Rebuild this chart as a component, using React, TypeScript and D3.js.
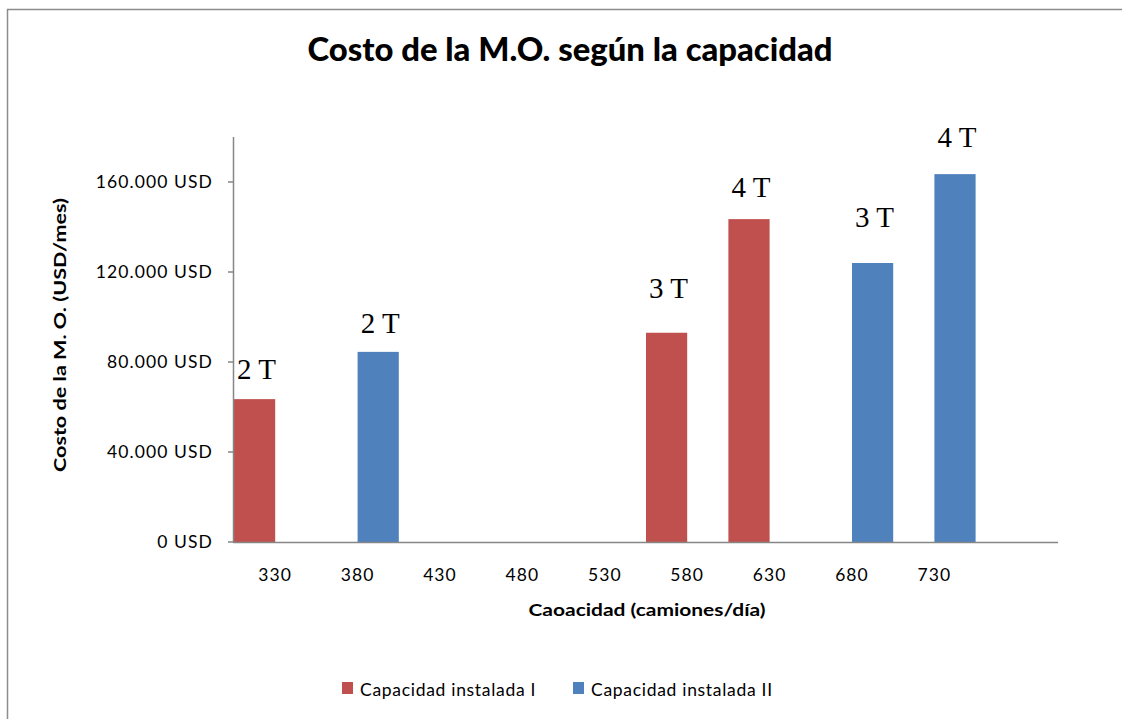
import React from "react";
import * as d3 from "d3";

const categories = ["330", "380", "430", "480", "530", "580", "630", "680", "730", ""];
const seriesNames = ["Capacidad instalada I", "Capacidad instalada II"];
const seriesI: (number | null)[] = [63500, null, null, null, null, 93000, 143500, null, null, null];
const seriesII: (number | null)[] = [null, 84500, null, null, null, null, null, 124000, 163500, null];
const turnsI: (string | null)[] = ["2 T", null, null, null, null, "3 T", "4 T", null, null, null];
const turnsII: (string | null)[] = [null, "2 T", null, null, null, null, null, "3 T", "4 T", null];
const yTicks = [0, 40000, 80000, 120000, 160000];

// label gap above bar (style)
const gapI = [20, 0, 0, 0, 0, 35, 22, 0, 0, 0];
const gapII = [0, 19, 0, 0, 0, 0, 0, 36, 27, 0];

const colors = ["#C0504D", "#4F81BD"];
const W = 1122, H = 719;
const left = 234, right = 1058, top = 137, bottom = 542;

export default function App() {
  const x = d3.scaleBand<string>().domain(categories.map((c, i) => i + "")).range([left, right]).paddingInner(0).paddingOuter(0);
  const xs = d3.scaleBand<string>().domain(["0", "1"]).range([0, x.bandwidth()]).padding(0);
  const y = d3.scaleLinear().domain([0, 180000]).range([bottom, top]);
  const fmt = (v: number) => d3.format(",")(v).replace(/,/g, ".") + " USD";
  const series = [seriesI, seriesII];
  const turns = [turnsI, turnsII];
  const gaps = [gapI, gapII];
  const sans = "Lato, 'Open Sans', sans-serif";

  return (
    <svg width={W} height={H} style={{ position: "absolute", left: 0, top: 0, background: "#fff" }}>
      <rect x={0} y={0} width={W} height={H} fill="#fff" />
      <path d={`M7.5,${H} V9.5 H${W}`} fill="none" stroke="#8c8c8c" strokeWidth={1.5} />
      <text x={570} y={61} textAnchor="middle" fontFamily={sans} fontWeight="900" fontSize={33} textLength={525} lengthAdjust="spacingAndGlyphs" fill="#000">
        Costo de la M.O. según la capacidad
      </text>
      {series.map((s, si) =>
        s.map((v, i) =>
          v == null ? null : (
            <rect key={`b${si}-${i}`} x={(x(i + "") as number) + (xs(si + "") as number)} y={y(v)} width={xs.bandwidth()} height={y(0) - y(v)} fill={colors[si]} />
          )
        )
      )}
      {series.map((s, si) =>
        s.map((v, i) =>
          v == null || !turns[si][i] ? null : (
            <text key={`t${si}-${i}`} x={(x(i + "") as number) + (xs(si + "") as number) + xs.bandwidth() / 2 + 2} y={y(v) - gaps[si][i]}
              textAnchor="middle" fontFamily="'Liberation Serif', 'Times New Roman', serif" fontSize={29} fill="#000">
              {turns[si][i]}
            </text>
          )
        )
      )}
      <line x1={left - 0.5} x2={left - 0.5} y1={top} y2={bottom} stroke="#868686" strokeWidth={1.5} />
      <line x1={left - 1} x2={right} y1={bottom + 0.5} y2={bottom + 0.5} stroke="#868686" strokeWidth={1.5} />
      {yTicks.map((t) => (
        <g key={t}>
          <line x1={left - 6} x2={left} y1={y(t)} y2={y(t)} stroke="#868686" strokeWidth={1.5} />
          <text x={213} y={y(t) + 6} textAnchor="end" fontFamily={sans} fontSize={17.5} letterSpacing={1.1} fill="#000">
            {fmt(t)}
          </text>
        </g>
      ))}
      {categories.map((c, i) => (
        <text key={`c${i}`} x={(x(i + "") as number) + x.bandwidth() / 2} y={581} textAnchor="middle" fontFamily={sans} fontSize={17.5} letterSpacing={1.1} fill="#000">
          {c}
        </text>
      ))}
      <text x={647} y={616} textAnchor="middle" fontFamily={sans} fontWeight="bold" fontSize={17.5} textLength={237} lengthAdjust="spacingAndGlyphs" fill="#000">
        Caoacidad  (camiones/día)
      </text>
      <text transform="translate(66,335) rotate(-90)" textAnchor="middle" fontFamily={sans} fontWeight="bold" fontSize={17.5} textLength={274} lengthAdjust="spacingAndGlyphs" fill="#000">
        Costo de la M. O. (USD/mes)
      </text>
      {seriesNames.map((n, i) => {
        const lx = [342, 573][i];
        return (
          <g key={n}>
            <rect x={lx} y={682} width={11} height={12} fill={colors[i]} />
            <text x={lx + 18} y={696} fontFamily={sans} fontSize={17.5} letterSpacing={0.7} fill="#000">{n}</text>
          </g>
        );
      })}
    </svg>
  );
}
